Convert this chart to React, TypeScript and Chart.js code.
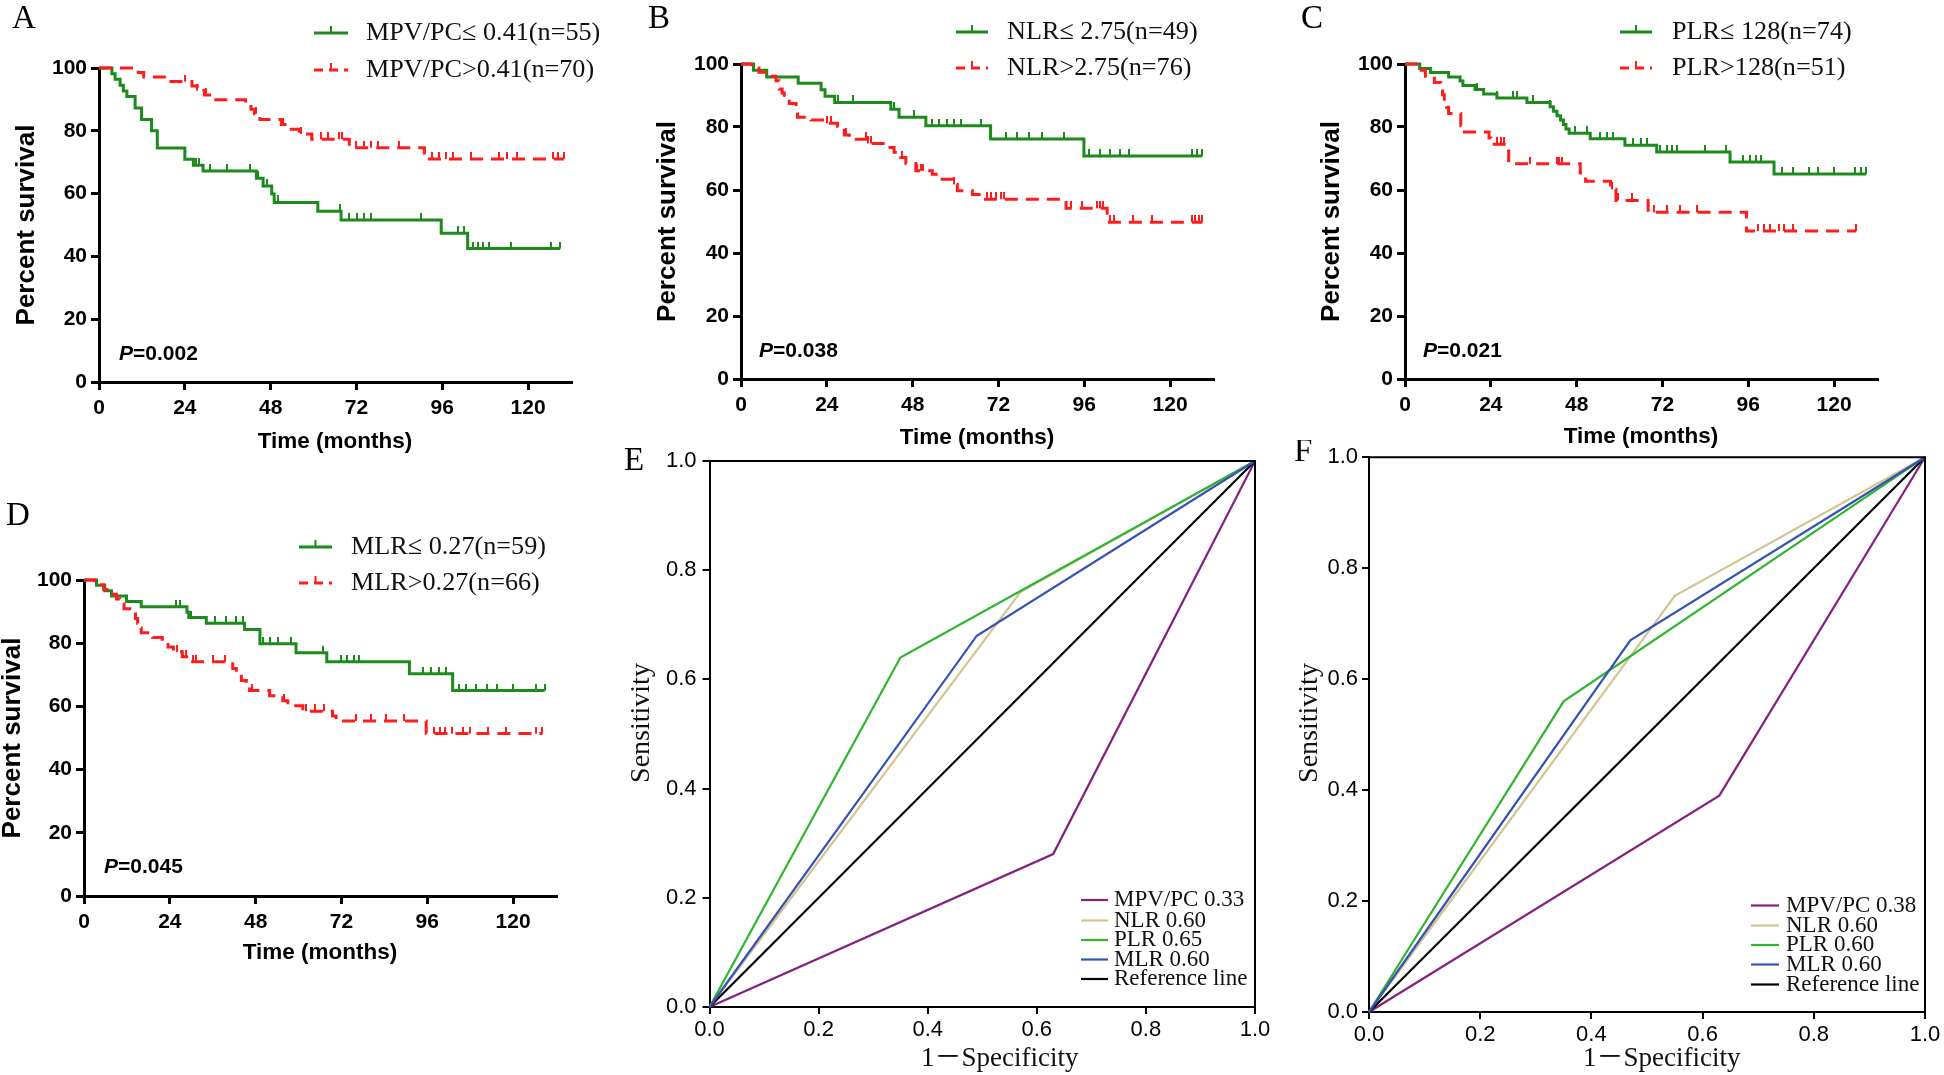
import React, { useEffect, useRef } from "react";
import { Chart, registerables } from "chart.js";
Chart.register(...registerables);

// ---------------- Data: Kaplan–Meier curves (months, % survival) ----------------
const KM_X_TICKS = [0, 24, 48, 72, 96, 120];
const KM_Y_TICKS = [0, 20, 40, 60, 80, 100];
const KM_X_MAX = 132;

// Panel A – MPV/PC
const A_LOW_LABEL = "MPV/PC\u2264 0.41(n=55)";
const A_LOW_T = [3.6, 4.5, 5.9, 6.8, 7.8, 10.1, 11.9, 14.7, 16.3, 24.0, 26.4, 29.1, 44.0, 45.9, 48.3, 49.0, 61.2, 67.7, 95.7, 103.1];
const A_LOW_S = [98.2, 96.4, 94.5, 92.7, 90.9, 87.3, 83.6, 80.0, 74.5, 70.9, 69.0, 67.2, 64.9, 62.4, 59.9, 57.2, 54.4, 51.6, 47.4, 42.5];
const A_LOW_C = [27, 28, 31, 35.8, 42.2, 44.5, 47, 50, 67.3, 70, 72.2, 74.2, 76.2, 90, 100.4, 102, 104.5, 106, 107.5, 109.2, 115.3, 126.3, 129];
const A_HIGH_LABEL = "MPV/PC>0.41(n=70)";
const A_HIGH_T = [11, 12.5, 19.5, 26, 27.5, 29.5, 32, 41, 42.5, 43.5, 45, 51, 53, 56, 59.5, 70, 91];
const A_HIGH_S = [98.6, 97.1, 95.7, 94.3, 92.8, 91.4, 89.9, 88.4, 86.9, 85.4, 83.6, 82.0, 80.5, 79.0, 77.3, 74.6, 71.0];
const A_HIGH_C = [24, 27.5, 30, 44, 51.5, 56.5, 62, 64, 67, 68, 72, 74, 76, 78, 84, 93, 95, 97, 99, 104, 112, 114, 117, 127, 128.5, 130];
const A_P = "0.002";

// Panel B – NLR
const B_LOW_LABEL = "NLR\u2264 2.75(n=49)";
const B_LOW_T = [3.5, 7.2, 16, 22.4, 23.5, 26.2, 41.9, 44.2, 51.7, 69.8, 95.9];
const B_LOW_S = [98.0, 95.9, 93.9, 91.8, 89.8, 87.8, 85.6, 83.1, 80.4, 76.2, 70.8];
const B_LOW_C = [27, 31.2, 42.8, 48.4, 53.5, 55.5, 57.5, 59.5, 61.4, 67, 74, 77.3, 80.5, 84.2, 90.3, 97.3, 100.5, 103.3, 106.1, 108.4, 126, 127.5, 129];
const B_HIGH_LABEL = "NLR>2.75(n=76)";
const B_HIGH_T = [3, 5, 8, 9.8, 10.7, 11.5, 12.1, 13.5, 15.4, 15.8, 19.6, 23.7, 27, 28.9, 30.3, 35.4, 41, 42.8, 44.7, 46.1, 48.9, 53.5, 55.8, 59.1, 60.5, 64.7, 67.9, 90.9, 102.4];
const B_HIGH_S = [98.7, 97.4, 96.1, 94.7, 92.1, 90.8, 88.8, 87.5, 85.1, 83.1, 82.2, 81.2, 80.2, 77.5, 76.1, 74.8, 73.5, 72.0, 70.3, 68.4, 66.1, 65.0, 63.4, 61.8, 59.8, 58.6, 57.1, 54.2, 49.8];
const B_HIGH_C = [24, 25.2, 29.3, 34.9, 35.6, 36.3, 45.1, 49.3, 50.2, 51, 59.5, 68.9, 69.8, 71.2, 72.6, 73.5, 92.2, 95.4, 99.6, 100.4, 101.2, 103.2, 104.2, 109.7, 115, 126, 127, 128, 129];
const B_P = "0.038";

// Panel C – PLR
const C_LOW_LABEL = "PLR\u2264 128(n=74)";
const C_LOW_T = [4.1, 7.1, 12.2, 15.4, 16.2, 19.6, 22, 25.7, 34.1, 40.6, 41.5, 42.5, 43.5, 44.3, 45, 45.9, 51.8, 61.5, 70.4, 90.9, 103.2];
const C_LOW_S = [98.6, 97.3, 95.9, 94.6, 93.2, 91.9, 90.5, 89.2, 87.8, 86.4, 85.0, 83.6, 82.2, 80.8, 79.4, 78.0, 76.3, 74.2, 72.1, 68.9, 65.1];
const C_LOW_C = [20.1, 25.7, 30.3, 31.3, 35.9, 40.6, 47.6, 50.8, 54.5, 56.4, 58.3, 63.9, 66, 67.6, 71.3, 73.2, 74.6, 76, 83.9, 89.9, 94.6, 96.5, 98.3, 99.5, 105.5, 108.4, 113, 115.6, 120, 125.8, 127.5, 129];
const C_HIGH_LABEL = "PLR>128(n=51)";
const C_HIGH_T = [3.2, 5.7, 8.2, 10, 10.5, 11, 11.6, 12.2, 15.6, 16.2, 23.5, 24, 28.5, 29, 49, 50.5, 57.5, 59, 68, 95.5];
const C_HIGH_S = [98.0, 96.1, 94.1, 92.2, 90.2, 88.2, 86.3, 84.3, 80.4, 78.4, 76.5, 74.5, 72.4, 68.3, 65.4, 62.8, 60.2, 56.7, 52.9, 47.0];
const C_HIGH_C = [25.8, 26.8, 27.6, 35, 42.5, 43.2, 43.9, 58, 59.7, 63.4, 69.5, 73.2, 76.9, 81.6, 98.7, 100.5, 102, 104.5, 106, 108.4, 126.2];
const C_P = "0.021";

// Panel D – MLR
const D_LOW_LABEL = "MLR\u2264 0.27(n=59)";
const D_LOW_T = [3.5, 5.8, 7.7, 11.9, 16, 28.8, 29.3, 34.2, 44.9, 49.2, 59.3, 67.9, 91, 103.1];
const D_LOW_S = [98.3, 96.6, 94.9, 93.2, 91.5, 89.8, 88.1, 86.3, 84.3, 79.8, 77.0, 74.1, 70.3, 65.0];
const D_LOW_C = [25.8, 26.8, 30, 36.5, 39.8, 42.6, 44.4, 50, 52, 54.2, 58, 66.8, 71.9, 73.5, 75.5, 77, 94.7, 97, 99.3, 101.2, 104.9, 106.7, 109.5, 112.8, 115.4, 120, 126.5, 128.8];
const D_HIGH_LABEL = "MLR>0.27(n=66)";
const D_HIGH_T = [3, 5.5, 7.2, 9.1, 10, 11.2, 14.4, 15, 15.5, 16, 19.2, 21.9, 23.5, 25, 27.5, 29.9, 41.6, 42.6, 44, 45.4, 46.3, 51.9, 55.6, 57, 61.2, 69.5, 70.5, 95.7];
const D_HIGH_S = [98.5, 97.0, 95.5, 94.0, 92.4, 90.9, 87.8, 86.3, 84.8, 83.3, 81.8, 80.3, 78.8, 77.2, 75.7, 74.1, 72.0, 70.3, 68.2, 66.6, 65.0, 63.4, 61.8, 60.2, 58.5, 57.0, 55.4, 51.4];
const D_HIGH_C = [26, 27.5, 28.5, 30.5, 31.4, 36, 39.5, 47, 56, 62, 64.5, 67.2, 76, 80.3, 84.5, 89.6, 98, 99.5, 101, 103, 105.9, 108, 113, 118, 126.5, 128.2];
const D_P = "0.045";

// ---------------- Data: ROC curves ----------------
const ROC_TICKS = [0, 0.2, 0.4, 0.6, 0.8, 1.0];
const ROC_NAMES = ["MPV/PC", "NLR", "PLR", "MLR"];
const REF_FPR = [0, 1];
const REF_TPR = [0, 1];

const E_AUC = ["0.33", "0.60", "0.65", "0.60"];
const E_MPV_FPR = [0, 0.63, 1];
const E_MPV_TPR = [0, 0.28, 1];
const E_NLR_FPR = [0, 0.57, 1];
const E_NLR_TPR = [0, 0.76, 1];
const E_PLR_FPR = [0, 0.35, 1];
const E_PLR_TPR = [0, 0.64, 1];
const E_MLR_FPR = [0, 0.49, 1];
const E_MLR_TPR = [0, 0.68, 1];

const F_AUC = ["0.38", "0.60", "0.60", "0.60"];
const F_MPV_FPR = [0, 0.63, 1];
const F_MPV_TPR = [0, 0.39, 1];
const F_NLR_FPR = [0, 0.55, 1];
const F_NLR_TPR = [0, 0.75, 1];
const F_PLR_FPR = [0, 0.35, 1];
const F_PLR_TPR = [0, 0.56, 1];
const F_MLR_FPR = [0, 0.47, 1];
const F_MLR_TPR = [0, 0.67, 1];

// ---------------- Styling ----------------
const SANS = '"Liberation Sans", Arial, sans-serif';
const SERIF = '"Liberation Serif", "Times New Roman", "Noto Sans CJK SC", serif';
const GREEN = "#1c8a1c";
const RED = "#ff1c1c";
const C_MPV = "#84217f";
const C_NLR = "#d3c592";
const C_PLR = "#2fb52f";
const C_MLR = "#3652b5";
const C_REF = "#000000";

// ---------------- helpers ----------------
function stepValue(times: number[], surv: number[], t: number) {
  let v = 100;
  for (let i = 0; i < times.length; i++) if (times[i] <= t) v = surv[i];
  return v;
}
function kmPoints(times: number[], surv: number[], censor: number[]) {
  const end = Math.max(...times, ...censor);
  return [{ x: 0, y: 100 }, ...times.map((t, i) => ({ x: t, y: surv[i] })), { x: end, y: surv[surv.length - 1] }];
}
function censorPoints(times: number[], surv: number[], censor: number[]) {
  return censor.map((t) => ({ x: t, y: stepValue(times, surv, t) }));
}
function tickMark(color: string) {
  const c = document.createElement("canvas");
  c.width = 2;
  c.height = 14;
  const g = c.getContext("2d")!;
  g.fillStyle = color;
  g.fillRect(0, 0, 2, 7);
  return c;
}

const KM_PANELS: any[] = [
  {
    letter: "A",
    canvas: { left: 0, top: 0, width: 620, height: 460 },
    plot: { left: 99, top: 68, right: 571, bottom: 382 },
    legend: { x1: 314, x2: 348, tx: 366, y1: 33, y2: 70 },
    pPos: { x: 119, y: 354 },
    letterPos: { x: 12, y: 28 },
    yTitlePad: 14,
    xTitlePad: 6.5,
    low: { label: A_LOW_LABEL, t: A_LOW_T, s: A_LOW_S, c: A_LOW_C },
    high: { label: A_HIGH_LABEL, t: A_HIGH_T, s: A_HIGH_S, c: A_HIGH_C },
    p: A_P,
  },
  {
    letter: "B",
    canvas: { left: 620, top: 0, width: 620, height: 460 },
    plot: { left: 741, top: 64, right: 1213, bottom: 379 },
    legend: { x1: 956, x2: 988, tx: 1007, y1: 32, y2: 68 },
    pPos: { x: 759, y: 351 },
    letterPos: { x: 648, y: 28 },
    yTitlePad: 34.5,
    xTitlePad: 10.5,
    low: { label: B_LOW_LABEL, t: B_LOW_T, s: B_LOW_S, c: B_LOW_C },
    high: { label: B_HIGH_LABEL, t: B_HIGH_T, s: B_HIGH_S, c: B_HIGH_C },
    p: B_P,
  },
  {
    letter: "C",
    canvas: { left: 1290, top: 0, width: 654, height: 460 },
    plot: { left: 1405, top: 64, right: 1877, bottom: 379 },
    legend: { x1: 1620, x2: 1652, tx: 1672, y1: 32, y2: 68 },
    pPos: { x: 1423, y: 351 },
    letterPos: { x: 1301, y: 28 },
    yTitlePad: 29,
    xTitlePad: 12,
    low: { label: C_LOW_LABEL, t: C_LOW_T, s: C_LOW_S, c: C_LOW_C },
    high: { label: C_HIGH_LABEL, t: C_HIGH_T, s: C_HIGH_S, c: C_HIGH_C },
    p: C_P,
  },
  {
    letter: "D",
    canvas: { left: 0, top: 490, width: 620, height: 500 },
    plot: { left: 84, top: 580, right: 556, bottom: 896 },
    legend: { x1: 299, x2: 332, tx: 351, y1: 547, y2: 583 },
    pPos: { x: 104, y: 867 },
    letterPos: { x: 6, y: 525 },
    yTitlePad: 0,
    xTitlePad: 25.5,
    low: { label: D_LOW_LABEL, t: D_LOW_T, s: D_LOW_S, c: D_LOW_C },
    high: { label: D_HIGH_LABEL, t: D_HIGH_T, s: D_HIGH_S, c: D_HIGH_C },
    p: D_P,
  },
];

const ROC_PANELS: any[] = [
  {
    letter: "E",
    canvas: { left: 620, top: 440, width: 660, height: 635 },
    plot: { left: 709.5, top: 461, right: 1255, bottom: 1007 },
    legend: { x1: 1081, x2: 1108, tx: 1114, rows: [900, 920.5, 940, 959.5, 979] },
    letterPos: { x: 624, y: 470 },
    sens: { x: 641.5, y: 723 },
    spec: { x: 921, y: 1066 },
    yPad: 6,
    auc: E_AUC,
    series: [
      [E_MPV_FPR, E_MPV_TPR],
      [E_NLR_FPR, E_NLR_TPR],
      [E_PLR_FPR, E_PLR_TPR],
      [E_MLR_FPR, E_MLR_TPR],
    ],
  },
  {
    letter: "F",
    canvas: { left: 1280, top: 440, width: 664, height: 635 },
    plot: { left: 1369, top: 456, right: 1925, bottom: 1012 },
    legend: { x1: 1751, x2: 1779, tx: 1786, rows: [905.5, 925.5, 945, 964.5, 984.5] },
    letterPos: { x: 1294, y: 461 },
    sens: { x: 1310, y: 723 },
    spec: { x: 1583, y: 1066 },
    yPad: 4,
    auc: F_AUC,
    series: [
      [F_MPV_FPR, F_MPV_TPR],
      [F_NLR_FPR, F_NLR_TPR],
      [F_PLR_FPR, F_PLR_TPR],
      [F_MLR_FPR, F_MLR_TPR],
    ],
  },
];

function axisBase(lw: number, tl: number) {
  return {
    grid: { display: true, drawOnChartArea: false, drawTicks: true, tickLength: tl, lineWidth: lw, color: "#000" },
    border: { display: true, color: "#000", width: lw },
  };
}

function kmConfig(sp: any) {
  const c = sp.canvas;
  const p = sp.plot;
  const gTick = tickMark(GREEN);
  const rTick = tickMark(RED);
  const tickFont = { family: SANS, size: 21, weight: "bold" };
  return {
    type: "line",
    data: {
      datasets: [
        {
          label: sp.high.label,
          data: kmPoints(sp.high.t, sp.high.s, sp.high.c),
          borderColor: RED,
          borderWidth: 3,
          borderDash: [13, 8],
          stepped: true,
          pointRadius: 0,
          fill: false,
          clip: false,
          order: 1,
        },
        {
          label: sp.high.label + " censored",
          data: censorPoints(sp.high.t, sp.high.s, sp.high.c),
          showLine: false,
          pointStyle: rTick,
          pointRadius: 4,
          clip: false,
          order: 0,
        },
        {
          label: sp.low.label,
          data: kmPoints(sp.low.t, sp.low.s, sp.low.c),
          borderColor: GREEN,
          borderWidth: 3,
          stepped: true,
          pointRadius: 0,
          fill: false,
          clip: false,
          order: 3,
        },
        {
          label: sp.low.label + " censored",
          data: censorPoints(sp.low.t, sp.low.s, sp.low.c),
          showLine: false,
          pointStyle: gTick,
          pointRadius: 4,
          clip: false,
          order: 2,
        },
      ],
    },
    options: {
      animation: false,
      responsive: false,
      devicePixelRatio: 1,
      events: [],
      layout: { padding: { left: 0, top: p.top - c.top, right: c.left + c.width - p.right, bottom: 0 } },
      plugins: { legend: { display: false }, tooltip: { enabled: false } },
      scales: {
        x: {
          type: "linear",
          min: 0,
          max: KM_X_MAX,
          ...axisBase(3, 8),
          afterBuildTicks: (s: any) => {
            s.ticks = KM_X_TICKS.map((v) => ({ value: v }));
          },
          afterFit: (s: any) => {
            s.height = c.top + c.height - p.bottom;
          },
          ticks: { color: "#000", padding: 6, maxRotation: 0, autoSkip: false, font: tickFont },
          title: {
            display: true,
            text: "Time (months)",
            color: "#000",
            font: { family: SANS, size: 22.5, weight: "bold", lineHeight: 1 },
            padding: { top: 0, bottom: sp.xTitlePad },
          },
        },
        y: {
          type: "linear",
          min: 0,
          max: 100,
          ...axisBase(3, 8),
          afterBuildTicks: (s: any) => {
            s.ticks = KM_Y_TICKS.map((v) => ({ value: v }));
          },
          afterFit: (s: any) => {
            s.width = p.left - c.left;
          },
          ticks: { color: "#000", padding: 4, font: tickFont },
          title: {
            display: true,
            text: "Percent survival",
            color: "#000",
            font: { family: SANS, size: 26, weight: "bold", lineHeight: 1 },
            padding: { top: sp.yTitlePad, bottom: 0 },
          },
        },
      },
    },
    plugins: [
      {
        id: "kmAnnot",
        afterDraw(chart: any) {
          const ctx = chart.ctx;
          const ox = c.left;
          const oy = c.top;
          ctx.save();
          ctx.fillStyle = "#000";
          ctx.textAlign = "left";
          ctx.textBaseline = "alphabetic";
          ctx.font = `33px ${SERIF}`;
          ctx.fillText(sp.letter, sp.letterPos.x - ox, sp.letterPos.y - oy);

          const rows = [
            { color: GREEN, dash: [], label: sp.low.label, y: sp.legend.y1 },
            { color: RED, dash: [9, 6], label: sp.high.label, y: sp.legend.y2 },
          ];
          rows.forEach((r) => {
            const y = r.y - oy;
            const x1 = sp.legend.x1 - ox;
            const x2 = sp.legend.x2 - ox;
            ctx.strokeStyle = r.color;
            ctx.lineWidth = 3;
            ctx.setLineDash(r.dash);
            ctx.beginPath();
            ctx.moveTo(x1, y);
            ctx.lineTo(x2, y);
            ctx.stroke();
            ctx.setLineDash([]);
            ctx.lineWidth = 2;
            ctx.beginPath();
            ctx.moveTo((x1 + x2) / 2, y);
            ctx.lineTo((x1 + x2) / 2, y - 7);
            ctx.stroke();
            ctx.fillStyle = "#111";
            ctx.font = `26.2px ${SERIF}`;
            ctx.textBaseline = "middle";
            ctx.fillText(r.label, sp.legend.tx - ox, y);
          });

          ctx.fillStyle = "#000";
          ctx.textBaseline = "middle";
          ctx.font = `italic bold 21px ${SANS}`;
          const px = sp.pPos.x - ox;
          const py = sp.pPos.y - oy;
          ctx.fillText("P", px, py);
          const w = ctx.measureText("P").width;
          ctx.font = `bold 21px ${SANS}`;
          ctx.fillText("=" + sp.p, px + w, py);
          ctx.restore();
        },
      },
    ],
  };
}

function rocConfig(sp: any) {
  const c = sp.canvas;
  const p = sp.plot;
  const colors = [C_MPV, C_NLR, C_PLR, C_MLR];
  const orders = [3, 4, 1, 0];
  const tickFont = { family: SANS, size: 22 };
  const datasets: any[] = sp.series.map((s: number[][], i: number) => ({
    label: `${ROC_NAMES[i]} ${sp.auc[i]}`,
    data: s[0].map((x, j) => ({ x, y: s[1][j] })),
    borderColor: colors[i],
    borderWidth: 2.2,
    pointRadius: 0,
    tension: 0,
    fill: false,
    clip: false,
    order: orders[i],
  }));
  datasets.push({
    label: "Reference line",
    data: REF_FPR.map((x, j) => ({ x, y: REF_TPR[j] })),
    borderColor: C_REF,
    borderWidth: 2.2,
    pointRadius: 0,
    tension: 0,
    fill: false,
    clip: false,
    order: 2,
  });
  const legendItems = [...ROC_NAMES.map((n, i) => ({ label: `${n} ${sp.auc[i]}`, color: colors[i] })), { label: "Reference line", color: C_REF }];
  return {
    type: "line",
    data: { datasets },
    options: {
      animation: false,
      responsive: false,
      devicePixelRatio: 1,
      events: [],
      layout: { padding: { left: 0, top: p.top - c.top, right: c.left + c.width - p.right, bottom: 0 } },
      plugins: { legend: { display: false }, tooltip: { enabled: false } },
      scales: {
        x: {
          type: "linear",
          min: 0,
          max: 1,
          ...axisBase(2, 7),
          afterBuildTicks: (s: any) => {
            s.ticks = ROC_TICKS.map((v) => ({ value: v }));
          },
          afterFit: (s: any) => {
            s.height = c.top + c.height - p.bottom;
          },
          ticks: { color: "#000", padding: 3, maxRotation: 0, autoSkip: false, font: tickFont, callback: (v: any) => Number(v).toFixed(1) },
        },
        y: {
          type: "linear",
          min: 0,
          max: 1,
          ...axisBase(2, 7),
          afterBuildTicks: (s: any) => {
            s.ticks = ROC_TICKS.map((v) => ({ value: v }));
          },
          afterFit: (s: any) => {
            s.width = p.left - c.left;
          },
          ticks: { color: "#000", padding: sp.yPad, font: tickFont, callback: (v: any) => Number(v).toFixed(1) },
        },
      },
    },
    plugins: [
      {
        id: "rocAnnot",
        afterDraw(chart: any) {
          const ctx = chart.ctx;
          const a = chart.chartArea;
          const ox = c.left;
          const oy = c.top;
          ctx.save();
          ctx.strokeStyle = "#000";
          ctx.lineWidth = 2;
          ctx.beginPath();
          ctx.moveTo(a.left, a.top);
          ctx.lineTo(a.right, a.top);
          ctx.lineTo(a.right, a.bottom);
          ctx.stroke();

          ctx.fillStyle = "#000";
          ctx.textAlign = "left";
          ctx.textBaseline = "alphabetic";
          ctx.font = `33px ${SERIF}`;
          ctx.fillText(sp.letter, sp.letterPos.x - ox, sp.letterPos.y - oy);

          ctx.fillStyle = "#111";
          ctx.font = `27px ${SERIF}`;
          ctx.fillText("1\uFF0DSpecificity", sp.spec.x - ox, sp.spec.y - oy);

          ctx.save();
          ctx.translate(sp.sens.x - ox, sp.sens.y - oy);
          ctx.rotate(-Math.PI / 2);
          ctx.textAlign = "center";
          ctx.textBaseline = "middle";
          ctx.font = `28px ${SERIF}`;
          ctx.fillText("Sensitivity", 0, 0);
          ctx.restore();

          legendItems.forEach((it, i) => {
            const y = sp.legend.rows[i] - oy;
            ctx.strokeStyle = it.color;
            ctx.lineWidth = 2.2;
            ctx.beginPath();
            ctx.moveTo(sp.legend.x1 - ox, y);
            ctx.lineTo(sp.legend.x2 - ox, y);
            ctx.stroke();
            ctx.fillStyle = "#111";
            ctx.font = `23px ${SERIF}`;
            ctx.textAlign = "left";
            ctx.textBaseline = "middle";
            ctx.fillText(it.label, sp.legend.tx - ox, y);
          });
          ctx.restore();
        },
      },
    ],
  };
}

function ChartCanvas({ rect, build }: { rect: any; build: () => any }) {
  const ref = useRef<HTMLCanvasElement | null>(null);
  useEffect(() => {
    const chart = new Chart(ref.current as HTMLCanvasElement, build());
    return () => chart.destroy();
  }, []);
  return (
    <canvas
      ref={ref}
      width={rect.width}
      height={rect.height}
      style={{ position: "absolute", left: rect.left, top: rect.top, width: rect.width, height: rect.height }}
    />
  );
}

export default function App() {
  return (
    <div style={{ position: "absolute", left: 0, top: 0, width: 1944, height: 1075, background: "#fff", overflow: "hidden" }}>
      {KM_PANELS.map((sp) => (
        <ChartCanvas key={sp.letter} rect={sp.canvas} build={() => kmConfig(sp)} />
      ))}
      {ROC_PANELS.map((sp) => (
        <ChartCanvas key={sp.letter} rect={sp.canvas} build={() => rocConfig(sp)} />
      ))}
    </div>
  );
}
